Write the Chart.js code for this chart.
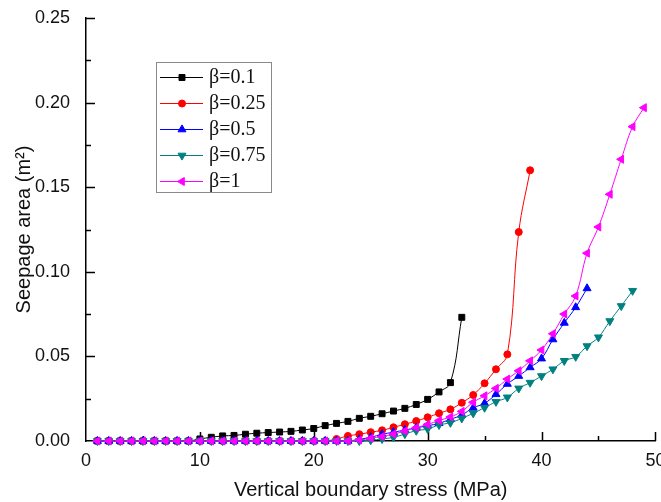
<!DOCTYPE html>
<html>
<head>
<meta charset="utf-8">
<script src="https://cdn.jsdelivr.net/npm/chart.js@4.4.1/dist/chart.umd.min.js"></script>
<style>
  html, body { margin: 0; padding: 0; background: #fff; overflow: hidden; }
</style>
</head>
<body>
<canvas class="js-seepage-chart" width="661" height="502"></canvas>
<script>
// vertical boundary stress (MPa)
const stress = [1, 2, 3, 4, 5, 6, 7, 8, 9, 10, 11, 12, 13, 14, 15, 16, 17, 18, 19, 20,
    21, 22, 23, 24, 25, 26, 27, 28, 29, 30, 31, 32, 33, 34, 35, 36, 37, 38, 39, 40,
    41, 42, 43, 44, 45, 46, 47, 48, 49]

// seepage area (m2), one value per stress step
const beta01 = [0, 0, 0, 0, 0, 0, 0, 0, 0, 0.0012, 0.0022, 0.003, 0.0033, 0.004, 0.0046,
    0.005, 0.0053, 0.0057, 0.0065, 0.0074, 0.0091, 0.0104, 0.0116, 0.0134, 0.0146,
    0.0161, 0.0177, 0.0193, 0.0216, 0.0246, 0.029, 0.0345, 0.0731]
const beta025 = [0, 0, 0, 0, 0, 0, 0, 0, 0, 0, 0, 0, 0, 0, 0, 0, 0, 0, 0, 0, 0,
    0.0012, 0.003, 0.004, 0.0052, 0.0063, 0.0081, 0.0099, 0.0118, 0.014, 0.0164,
    0.0187, 0.0226, 0.0272, 0.0341, 0.0424, 0.0512, 0.1235, 0.160]
const beta05 = [0, 0, 0, 0, 0, 0, 0, 0, 0, 0, 0, 0, 0, 0, 0, 0, 0, 0, 0, 0, 0, 0, 0,
    0.001, 0.0022, 0.004, 0.0052, 0.0065, 0.0078, 0.009, 0.0105, 0.0128, 0.0154,
    0.0196, 0.0223, 0.0276, 0.0337, 0.0384, 0.0435, 0.0487, 0.06, 0.0698, 0.079, 0.0902]
const beta075 = [0, 0, 0, 0, 0, 0, 0, 0, 0, 0, 0, 0, 0, 0, 0, 0, 0, 0, 0, 0, 0, 0, 0, 0,
    0.0005, 0.0012, 0.0022, 0.0041, 0.0061, 0.0071, 0.0095, 0.0108, 0.0134, 0.0164,
    0.0197, 0.0232, 0.0258, 0.0311, 0.0345, 0.0384, 0.0424, 0.0474, 0.0498, 0.0561,
    0.0613, 0.0709, 0.0798, 0.0888]
const beta1 = [0, 0, 0, 0, 0, 0, 0, 0, 0, 0, 0, 0, 0, 0, 0, 0, 0, 0, 0, 0, 0, 0, 0,
    0.0006, 0.0016, 0.0026, 0.0041, 0.0059, 0.0079, 0.0098, 0.0121, 0.0142, 0.0175,
    0.0229, 0.0267, 0.0311, 0.0366, 0.0415, 0.0474, 0.0538, 0.0634, 0.075, 0.0857,
    0.111, 0.1265, 0.1458, 0.1665, 0.1858, 0.197]

const yTicks = [0, 0.05, 0.1, 0.15, 0.2, 0.25]

const toPoints = values => values.map((v, i) => ({ x: stress[i], y: v }))

// inward tick marks like Origin
const innerTicks = {
    id: 'innerTicks',
    beforeDatasetsDraw(chart) {
        const { ctx, scales: { x, y } } = chart
        ctx.save()
        ctx.strokeStyle = '#000'
        ctx.lineWidth = 1.5
        ctx.beginPath()
        for (let v = 5; v <= 50; v += 5) {
            const px = Math.round(x.getPixelForValue(v)) + 0.5
            const len = v % 10 === 0 ? 9 : 5
            ctx.moveTo(px, y.bottom)
            ctx.lineTo(px, y.bottom - len)
        }
        for (let k = 1; k <= 10; k++) {
            const py = Math.round(y.getPixelForValue(k * 0.025)) + 0.5
            const len = k % 2 === 0 ? 9 : 5
            ctx.moveTo(x.left, py)
            ctx.lineTo(x.left + len, py)
        }
        ctx.stroke()
        ctx.restore()
    }
}

// legend box inside the plot
const insideLegend = {
    id: 'insideLegend',
    afterDraw(chart) {
        const ctx = chart.ctx
        const x0 = 156, y0 = 62, w = 115, h = 130
        ctx.save()
        ctx.strokeStyle = '#8a8a8a'
        ctx.lineWidth = 1
        ctx.strokeRect(x0 + 0.5, y0 + 0.5, w, h)
        chart.data.datasets.forEach((ds, i) => {
            const cy = y0 + 15 + i * 26
            ctx.strokeStyle = ds.borderColor
            ctx.lineWidth = 1
            ctx.beginPath()
            ctx.moveTo(x0 + 4, cy + 0.5)
            ctx.lineTo(x0 + 47, cy + 0.5)
            ctx.stroke()
            ctx.fillStyle = ds.backgroundColor
            Chart.helpers.drawPoint(ctx, {
                pointStyle: ds.pointStyle,
                radius: ds.pointRadius,
                rotation: ds.rotation || 0,
                borderWidth: 1
            }, x0 + 26, cy + 0.5)
            ctx.fillStyle = '#111'
            ctx.font = '20px "Liberation Serif", "Times New Roman", serif'
            ctx.textBaseline = 'middle'
            ctx.fillText(ds.label, x0 + 53, cy + 1)
        })
        ctx.restore()
    }
}

document.addEventListener('DOMContentLoaded', () => {
    Chart.defaults.font.family = '"Liberation Sans", Arial, sans-serif'
    Chart.defaults.color = '#111'

    const ctx = document.querySelector('.js-seepage-chart')
    const series = [
        { label: 'β=0.1', data: beta01, color: '#000000', style: 'rect', r: 4.2, rot: 0 },
        { label: 'β=0.25', data: beta025, color: '#ff0000', style: 'circle', r: 3.5, rot: 0 },
        { label: 'β=0.5', data: beta05, color: '#0000ff', style: 'triangle', r: 4.6, rot: 0 },
        { label: 'β=0.75', data: beta075, color: '#008080', style: 'triangle', r: 4.6, rot: 180 },
        { label: 'β=1', data: beta1, color: '#ff00ff', style: 'triangle', r: 4.6, rot: 270 },
    ]

    new Chart(ctx, {
        type: 'line',
        data: {
            datasets: series.map((s, i) => ({
                label: s.label,
                data: toPoints(s.data),
                borderColor: s.color,
                backgroundColor: s.color,
                borderWidth: 1,
                pointStyle: s.style,
                pointRadius: s.r,
                rotation: s.rot,
                pointBorderWidth: 1,
                tension: 0.4,
                clip: false,
                order: series.length - 1 - i
            }))
        },
        options: {
            responsive: false,
            animation: false,
            layout: { padding: { top: 18, right: 5, left: 0, bottom: 0 } },
            plugins: {
                legend: { display: false },
                tooltip: { enabled: false }
            },
            scales: {
                x: {
                    type: 'linear',
                    min: 0,
                    max: 50,
                    ticks: { stepSize: 10, padding: 1, font: { size: 18 } },
                    grid: { display: false },
                    border: { color: '#000', width: 1.5 },
                    title: {
                        display: true,
                        text: 'Vertical boundary stress (MPa)',
                        font: { size: 20 },
                        padding: { top: 0, bottom: 0 }
                    },
                    afterFit(scale) {
                        scale.height = 61
                        scale.paddingLeft = 0
                        scale.paddingRight = 0
                    }
                },
                y: {
                    min: 0,
                    max: 0.25,
                    afterBuildTicks(scale) {
                        scale.ticks = yTicks.map(v => ({ value: v }))
                    },
                    ticks: {
                        padding: 8,
                        font: { size: 18 },
                        callback: v => Number(v).toFixed(2)
                    },
                    grid: { display: false },
                    border: { color: '#000', width: 1.5 },
                    title: {
                        display: true,
                        text: 'Seepage area (m²)',
                        font: { size: 20 },
                        padding: { top: 12, bottom: 0 }
                    },
                    afterFit(scale) {
                        scale.width = 86
                        scale.paddingTop = 0
                        scale.paddingBottom = 0
                    }
                }
            }
        },
        plugins: [innerTicks, insideLegend]
    })
})
</script>
</body>
</html>
